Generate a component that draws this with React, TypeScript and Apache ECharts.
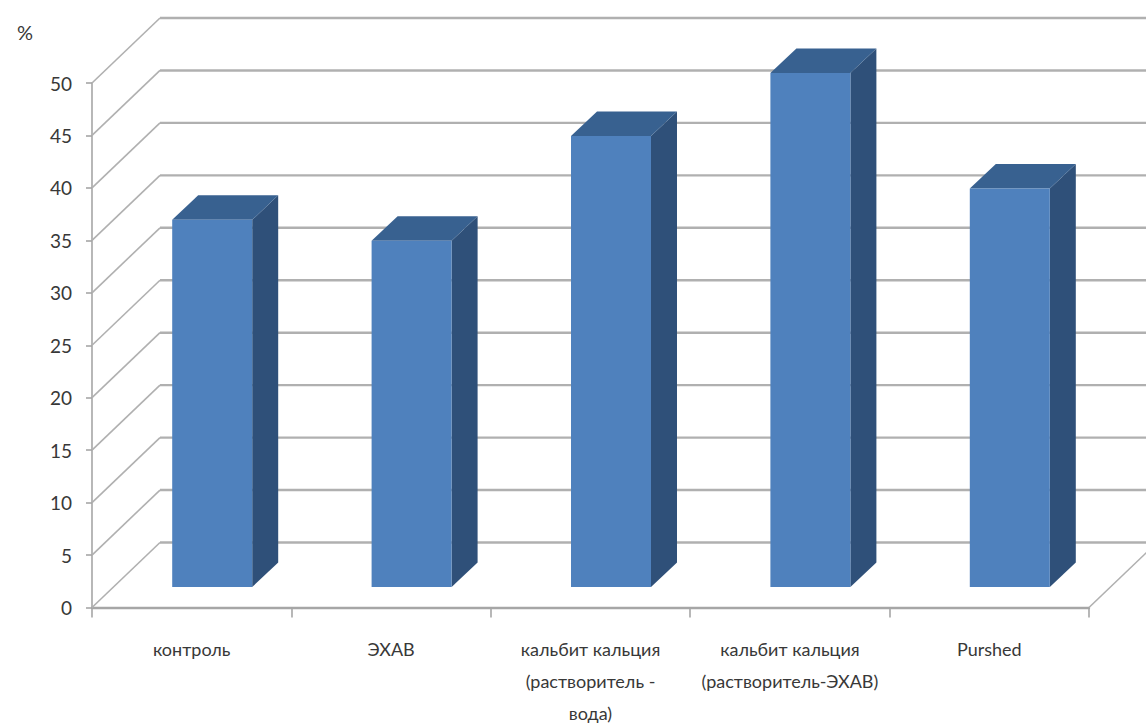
import React, { useEffect, useRef } from "react";
import * as echarts from "echarts";

// Solvent comparison, drawn as extruded columns on an open 3D-style box.
const categories = [
  "контроль",
  "ЭХАВ",
  "кальбит кальция\n(растворитель -\nвода)",
  "кальбит кальция\n(растворитель-ЭХАВ)",
  "Purshed",
];
const percentValues = [35, 33, 43, 49, 38];
const wallTicks = [0, 5, 10, 15, 20, 25, 30, 35, 40, 45, 50];

const WALL_DX = 68;
const WALL_DY = 65;
const BAR_SHIFT = 20.5;
const BAR_WIDTH = 80;
const BAR_DX = 26;
const BAR_DY = 24.5;

const FRONT = "#4f81bd";
const SIDE = "#2f5079";
const TOP = "#386190";
const WALL = "#b0b0b0";
const AXIS = "#a6a6a6";
const TEXT = "#383838";
const FONT = "Lato";

function renderWall(params: any, api: any) {
  const v = api.value(0);
  const cs = params.coordSys;
  const y = api.coord([0, v])[1];
  const x0 = cs.x;
  const x1 = cs.x + cs.width;
  const children: any[] = [
    {
      type: "polyline",
      shape: { points: [[x0, y], [x0 + WALL_DX, y - WALL_DY]] },
      style: { stroke: WALL, lineWidth: 1.6, fill: "none" },
    },
    {
      type: "line",
      shape: { x1: x0 + WALL_DX, y1: y - WALL_DY, x2: x1 + WALL_DX, y2: y - WALL_DY },
      style: { stroke: WALL, lineWidth: 2.4 },
    },
  ];
  if (v === 0) {
    // The floor's right-hand edge
    children.push({
      type: "line",
      shape: { x1, y1: y, x2: x1 + WALL_DX, y2: y - WALL_DY },
      style: { stroke: WALL, lineWidth: 1.6 },
    });
  }
  return { type: "group", children };
}

function renderColumn(_params: any, api: any) {
  const base = api.coord([api.value(0), 0]);
  const head = api.coord([api.value(0), api.value(1)]);
  const xl = base[0] + BAR_SHIFT - BAR_WIDTH / 2;
  const xr = xl + BAR_WIDTH;
  const yb = base[1] - BAR_SHIFT;
  const yt = head[1] - BAR_SHIFT;
  return {
    type: "group",
    children: [
      {
        type: "polygon",
        shape: {
          points: [[xr, yb], [xr + BAR_DX, yb - BAR_DY], [xr + BAR_DX, yt - BAR_DY], [xr, yt]],
        },
        style: { fill: SIDE },
      },
      {
        type: "polygon",
        shape: {
          points: [[xl, yt], [xl + BAR_DX, yt - BAR_DY], [xr + BAR_DX, yt - BAR_DY], [xr, yt]],
        },
        style: { fill: TOP },
      },
      {
        type: "rect",
        shape: { x: xl, y: yt, width: BAR_WIDTH, height: yb - yt },
        style: { fill: FRONT },
      },
    ],
  };
}

export default function App() {
  const ref = useRef<HTMLDivElement>(null);

  useEffect(() => {
    document.body.style.margin = "0";
    const chart = echarts.init(ref.current!, undefined, { renderer: "svg" });
    chart.setOption({
      animation: false,
      backgroundColor: "#ffffff",
      grid: { left: 92, top: 83, width: 997, height: 524.5, outerBoundsMode: "none" },
      xAxis: {
        type: "category",
        data: categories,
        boundaryGap: true,
        axisLine: { lineStyle: { color: AXIS, width: 2.4 } },
        axisTick: { show: true, length: 10, lineStyle: { color: AXIS, width: 1.6 } },
        axisLabel: {
          color: TEXT,
          fontFamily: FONT,
          fontSize: 18,
          lineHeight: 32,
          margin: 25,
          interval: 0,
          hideOverlap: false,
        },
      },
      yAxis: {
        type: "value",
        min: 0,
        max: 50,
        interval: 5,
        name: "%",
        nameGap: 41,
        nameTextStyle: {
          color: TEXT,
          fontFamily: FONT,
          fontSize: 20,
          align: "right",
          padding: [0, 59, 0, 0],
        },
        axisLine: { show: true, lineStyle: { color: AXIS, width: 1.6 } },
        axisTick: { show: true, length: 6, lineStyle: { color: AXIS, width: 1.6 } },
        axisLabel: { color: TEXT, fontFamily: FONT, fontSize: 19, margin: 20 },
        splitLine: { show: false },
      },
      series: [
        {
          type: "custom",
          coordinateSystem: "cartesian2d",
          renderItem: renderWall,
          data: wallTicks.map((v) => [v]),
          encode: { y: 0 },
          silent: true,
          z: 1,
        },
        {
          type: "custom",
          coordinateSystem: "cartesian2d",
          renderItem: renderColumn,
          data: percentValues.map((v, i) => [i, v]),
          encode: { x: 0, y: 1 },
          silent: true,
          z: 2,
        },
      ],
    });
    return () => chart.dispose();
  }, []);

  return <div ref={ref} style={{ width: 1146, height: 724 }} />;
}
